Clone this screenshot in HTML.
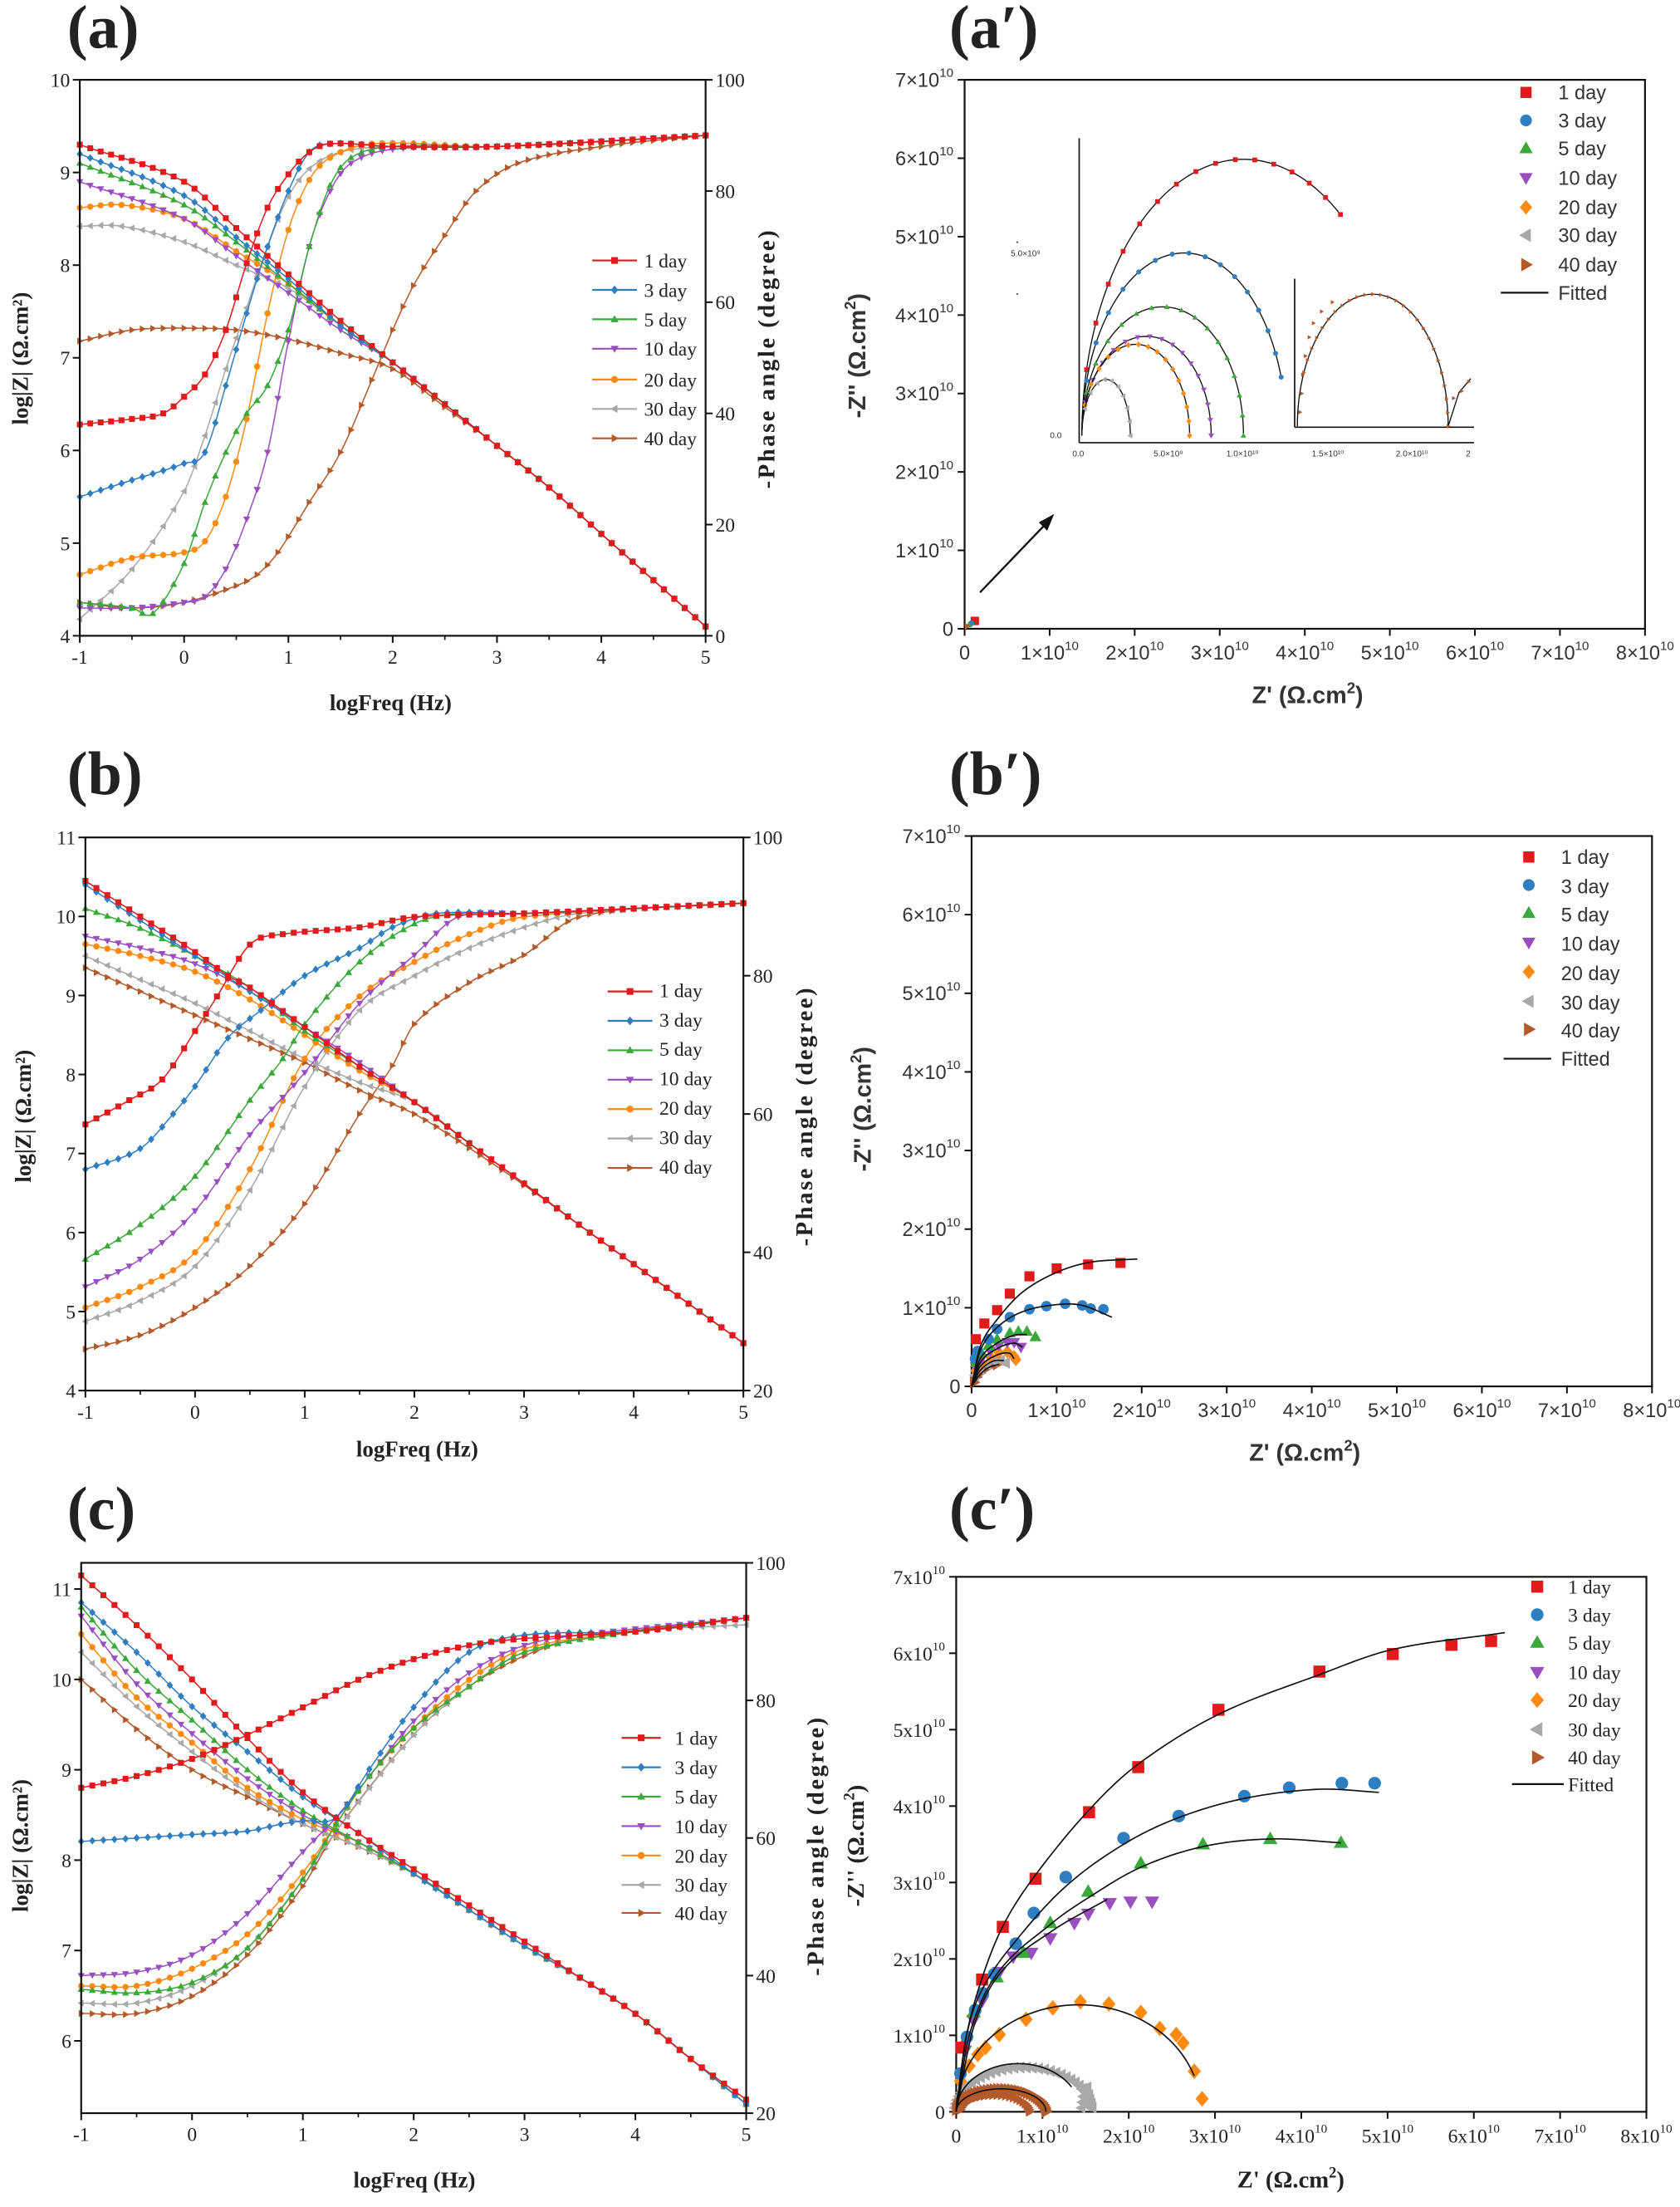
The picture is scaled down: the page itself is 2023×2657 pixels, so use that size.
<!DOCTYPE html>
<html><head><meta charset="utf-8"><style>
html,body{margin:0;padding:0;background:#fff;}
svg{display:block;}
.t{font-family:"Liberation Serif",serif;fill:#222;}
.s{font-family:"Liberation Sans",sans-serif;fill:#333;}
</style></head><body>
<svg id="s" xmlns="http://www.w3.org/2000/svg" width="2023" height="2657" viewBox="0 0 1200 1576" preserveAspectRatio="none">
<rect width="1200" height="1576" fill="#fff"/>
<!-- titles -->
<text class="t" x="48" y="34" font-size="44" font-weight="bold">(a)</text>
<text class="t" x="678" y="34" font-size="44" font-weight="bold">(a′)</text>
<text class="t" x="48" y="567" font-size="44" font-weight="bold">(b)</text>
<text class="t" x="678" y="567" font-size="44" font-weight="bold">(b′)</text>
<text class="t" x="48" y="1092" font-size="44" font-weight="bold">(c)</text>
<text class="t" x="678" y="1092" font-size="44" font-weight="bold">(c′)</text>

<!-- Bode axis labels -->
<text class="t" x="279" y="507" font-size="16" font-weight="bold" text-anchor="middle">logFreq (Hz)</text>
<text class="t" transform="translate(20,256) rotate(-90)" font-size="16" font-weight="bold" text-anchor="middle">log|Z| (Ω.cm²)</text>
<text class="t" transform="translate(553,256) rotate(-90)" font-size="17" font-weight="bold" text-anchor="middle" letter-spacing="1.5">-Phase angle (degree)</text>

<text class="t" x="298" y="1040" font-size="16" font-weight="bold" text-anchor="middle">logFreq (Hz)</text>
<text class="t" transform="translate(22,797) rotate(-90)" font-size="16" font-weight="bold" text-anchor="middle">log|Z| (Ω.cm²)</text>
<text class="t" transform="translate(580,797) rotate(-90)" font-size="17" font-weight="bold" text-anchor="middle" letter-spacing="1.5">-Phase angle (degree)</text>

<text class="t" x="296" y="1562" font-size="16" font-weight="bold" text-anchor="middle">logFreq (Hz)</text>
<text class="t" transform="translate(20,1318) rotate(-90)" font-size="16" font-weight="bold" text-anchor="middle">log|Z| (Ω.cm²)</text>
<text class="t" transform="translate(588,1318) rotate(-90)" font-size="17" font-weight="bold" text-anchor="middle" letter-spacing="1.5">-Phase angle (degree)</text>

<!-- Nyquist axis labels -->
<text class="s" x="934" y="502" font-size="17" font-weight="bold" text-anchor="middle" fill="#333">Z' (Ω.cm<tspan font-size="11" dy="-7">2</tspan><tspan dy="7">)</tspan></text>
<text class="s" transform="translate(618,254) rotate(-90)" font-size="17" font-weight="bold" text-anchor="middle">-Z'' (Ω.cm<tspan font-size="11" dy="-7">2</tspan><tspan dy="7">)</tspan></text>
<text class="s" x="932" y="1043" font-size="17" font-weight="bold" text-anchor="middle">Z' (Ω.cm<tspan font-size="11" dy="-7">2</tspan><tspan dy="7">)</tspan></text>
<text class="s" transform="translate(622,792) rotate(-90)" font-size="17" font-weight="bold" text-anchor="middle">-Z'' (Ω.cm<tspan font-size="11" dy="-7">2</tspan><tspan dy="7">)</tspan></text>
<text class="t" x="922" y="1562" font-size="17" font-weight="bold" text-anchor="middle">Z' (Ω.cm<tspan font-size="11" dy="-7">2</tspan><tspan dy="7">)</tspan></text>
<text class="t" transform="translate(617,1318) rotate(-90)" font-size="17" font-weight="bold" text-anchor="middle">-Z'' (Ω.cm<tspan font-size="11" dy="-7">2</tspan><tspan dy="7">)</tspan></text>

<!-- legends text -->
<g class="t" font-size="14">
<text x="460" y="191">1 day</text><text x="460" y="212">3 day</text><text x="460" y="233">5 day</text><text x="460" y="254">10 day</text><text x="460" y="276">20 day</text><text x="460" y="297">30 day</text><text x="460" y="318">40 day</text>
<text x="471" y="712">1 day</text><text x="471" y="733">3 day</text><text x="471" y="754">5 day</text><text x="471" y="775">10 day</text><text x="471" y="796">20 day</text><text x="471" y="817">30 day</text><text x="471" y="838">40 day</text>
<text x="482" y="1246">1 day</text><text x="482" y="1267">3 day</text><text x="482" y="1288">5 day</text><text x="482" y="1309">10 day</text><text x="482" y="1330">20 day</text><text x="482" y="1351">30 day</text><text x="482" y="1371">40 day</text>
</g>
<g class="s" font-size="14">
<text x="1113" y="71">1 day</text><text x="1113" y="91">3 day</text><text x="1113" y="111">5 day</text><text x="1113" y="132">10 day</text><text x="1113" y="153">20 day</text><text x="1113" y="173">30 day</text><text x="1113" y="194">40 day</text><text x="1113" y="214">Fitted</text>
<text x="1115" y="617">1 day</text><text x="1115" y="638">3 day</text><text x="1115" y="658">5 day</text><text x="1115" y="679">10 day</text><text x="1115" y="700">20 day</text><text x="1115" y="721">30 day</text><text x="1115" y="741">40 day</text><text x="1115" y="761">Fitted</text>
</g>
<g class="t" font-size="14">
<text x="1120" y="1138">1 day</text><text x="1120" y="1158">3 day</text><text x="1120" y="1178">5 day</text><text x="1120" y="1199">10 day</text><text x="1120" y="1219">20 day</text><text x="1120" y="1240">30 day</text><text x="1120" y="1260">40 day</text><text x="1120" y="1279">Fitted</text>
</g>
<!-- inset tiny labels -->
<g class="s" font-size="6" fill="#555">
<text x="722" y="183">5.0×10⁹</text>
<text x="750" y="313">0.0</text>
<text x="766" y="326">0.0</text>
<text x="824" y="326">5.0×10⁹</text>
<text x="876" y="326">1.0×10¹⁰</text>
<text x="937" y="326">1.5×10¹⁰</text>
<text x="997" y="326">2.0×10¹⁰</text>
<text x="1047" y="326">2</text>
</g>
<g id="ticks"></g>
</svg>
<script>
const NS='http://www.w3.org/2000/svg';
const svg=document.getElementById('s');
function el(tag,a,p){const e=document.createElementNS(NS,tag);for(const k in a)e.setAttribute(k,a[k]);(p||svg).appendChild(e);return e;}
function txt(s,a,cls){const e=el('text',a);e.setAttribute('class',cls||'t');e.textContent=s;return e;}
function interp(p,x){
 const n=p.length; if(x<=p[0][0])return p[0][1]; if(x>=p[n-1][0])return p[n-1][1];
 let i=1; while(p[i][0]<x)i++;
 const x0=p[i-1][0],x1=p[i][0],y0=p[i-1][1],y1=p[i][1],h=x1-x0,t=(x-x0)/h;
 const sl=j=>{ if(j==0)return (p[1][1]-p[0][1])/(p[1][0]-p[0][0]); if(j==n-1)return (p[n-1][1]-p[n-2][1])/(p[n-1][0]-p[n-2][0]); return (p[j+1][1]-p[j-1][1])/(p[j+1][0]-p[j-1][0]);};
 const m0=sl(i-1)*h,m1=sl(i)*h,t2=t*t,t3=t2*t;
 return (2*t3-3*t2+1)*y0+(t3-2*t2+t)*m0+(-2*t3+3*t2)*y1+(t3-t2)*m1;
}
function poly(pts,c,g){el('polygon',{points:pts.map(p=>p.join(',')).join(' '),fill:c},g);}
function mk(sh,x,y,s,c,g){
 switch(sh){
 case 'sq':el('rect',{x:x-s,y:y-s,width:2*s,height:2*s,fill:c},g);break;
 case 'ci':el('circle',{cx:x,cy:y,r:s*1.05,fill:c},g);break;
 case 'dm':poly([[x,y-s*1.3],[x+s*1.1,y],[x,y+s*1.3],[x-s*1.1,y]],c,g);break;
 case 'tu':poly([[x,y-s*1.25],[x+s*1.2,y+s*.85],[x-s*1.2,y+s*.85]],c,g);break;
 case 'td':poly([[x,y+s*1.25],[x+s*1.2,y-s*.85],[x-s*1.2,y-s*.85]],c,g);break;
 case 'tl':poly([[x-s*1.25,y],[x+s*.85,y-s*1.2],[x+s*.85,y+s*1.2]],c,g);break;
 case 'tr':poly([[x+s*1.25,y],[x-s*.85,y-s*1.2],[x-s*.85,y+s*1.2]],c,g);break;
 }
}
const COL=['#e31a1c','#2f7ec1','#3aa93a','#9a4fc1','#ff8a12','#a8a8a8','#b35a2a'];
const SH=['sq','dm','tu','td','ci','tl','tr'];
const SH2=['sq','ci','tu','td','dm','tl','tr'];

function bode(P,Z,PH,legY,legX){
 const X=v=>P.x0+(v-P.xmin)/(P.xmax-P.xmin)*(P.x1-P.x0);
 const YL=v=>P.y1-(v-P.lmin)/(P.lmax-P.lmin)*(P.y1-P.y0);
 const YR=v=>P.y1-(v-P.rmin)/(P.rmax-P.rmin)*(P.y1-P.y0);
 const g=el('g',{});
 for(let k=6;k>=0;k--){
  [[Z[k],YL],[PH[k],YR]].forEach(([d,Y])=>{
   let pts=[];for(let f=-1;f<=5.0001;f+=0.02)pts.push([X(f).toFixed(2),Y(interp(d,f)).toFixed(2)]);
   el('polyline',{points:pts.map(p=>p.join(',')).join(' '),fill:'none',stroke:COL[k],'stroke-width':0.9},g);
   for(let f=-1;f<=5.0001;f+=0.1)mk(SH[k],X(f),Y(interp(d,f)),2.1,COL[k],g);
  });
 }
 el('rect',{x:P.x0,y:P.y0,width:P.x1-P.x0,height:P.y1-P.y0,fill:'none',stroke:'#111','stroke-width':1.3});
 for(let f=P.xmin;f<=P.xmax;f++){el('line',{x1:X(f),x2:X(f),y1:P.y1,y2:P.y1+5,stroke:'#111','stroke-width':1.2});
   txt(String(f),{x:X(f),y:P.y1+20,'font-size':14,'text-anchor':'middle'});
   if(f<P.xmax)el('line',{x1:X(f+.5),x2:X(f+.5),y1:P.y1,y2:P.y1+3,stroke:'#111','stroke-width':1});}
 for(let v=Math.ceil(P.lmin);v<=P.lmax;v++){el('line',{x1:P.x0-5,x2:P.x0,y1:YL(v),y2:YL(v),stroke:'#111','stroke-width':1.2});
   txt(String(v),{x:P.x0-7,y:YL(v)+5,'font-size':14,'text-anchor':'end'});}
 for(let v=P.rmin;v<=P.rmax;v+=20){el('line',{x1:P.x1,x2:P.x1+5,y1:YR(v),y2:YR(v),stroke:'#111','stroke-width':1.2});
   txt(String(v),{x:P.x1+7,y:YR(v)+5,'font-size':14});}
 legY.forEach((y,k)=>{el('line',{x1:legX[0],x2:legX[1],y1:y,y2:y,stroke:COL[k],'stroke-width':1.3});mk(SH[k],(legX[0]+legX[1])/2,y,2.4,COL[k]);});
}
const tailA=[[2,6.95],[2.5,6.5],[3,6.05],[3.5,5.6],[4,5.1],[4.5,4.6],[5,4.1]];
bode({x0:57,x1:504,y0:57,y1:454,xmin:-1,xmax:5,lmin:4,lmax:10,rmin:0,rmax:100},
[
 [[-1,9.3],[0,8.9],[0.5,8.4],[1,7.9],[1.5,7.4],...tailA],
 [[-1,9.2],[0,8.75],[0.5,8.3],[1,7.85],[1.5,7.35],...tailA],
 [[-1,9.1],[0,8.65],[0.5,8.25],[1,7.8],[1.5,7.35],...tailA],
 [[-1,8.9],[0,8.5],[0.5,8.1],[1,7.7],[1.5,7.3],...tailA],
 [[-1,8.62],[-0.6,8.65],[0,8.5],[0.5,8.15],[1,7.8],[1.5,7.35],...tailA],
 [[-1,8.42],[-0.6,8.42],[0,8.25],[0.5,8.0],[1,7.75],[1.5,7.35],...tailA],
 [[-1,7.18],[-0.5,7.3],[0,7.32],[0.5,7.3],[1,7.2],[1.5,7.05],[2,6.88],[2.5,6.47],[3,6.05],[3.5,5.6],[4,5.1],[4.5,4.6],[5,4.1]]
],[
 [[-1,38],[-0.5,39],[-0.2,40],[0,43],[0.2,47],[0.4,55],[0.6,67],[0.8,77],[1,83],[1.2,87],[1.4,88.5],[2,88],[3,88],[5,90]],
 [[-1,25],[-0.5,28],[0,31],[0.2,33],[0.4,45],[0.6,58],[0.8,70],[1,80],[1.2,87],[1.4,88.5],[2,88],[3,88],[5,90]],
 [[-1,6],[-0.5,5],[-0.3,4],[0,13],[0.2,24],[0.4,33],[0.6,40],[0.8,45],[1,55],[1.2,70],[1.4,81],[1.6,86],[2,88],[3,88],[5,90]],
 [[-1,5],[-0.5,5],[0,6],[0.2,7],[0.4,12],[0.6,21],[0.8,33],[1,53],[1.2,70],[1.4,80],[1.6,85],[2,87.5],[3,88],[5,90]],
 [[-1,11],[-0.5,14],[0,15],[0.2,17],[0.4,25],[0.6,39],[0.8,58],[1,73],[1.2,82],[1.4,86],[1.8,88.5],[3,88],[5,90]],
 [[-1,3],[-0.5,12],[0,26],[0.2,36],[0.4,48],[0.6,59],[0.8,70],[1,79],[1.2,84],[1.5,87],[2,88],[3,88],[5,90]],
 [[-1,6],[-0.5,5],[0,6],[0.5,9],[0.7,11],[0.9,15],[1.2,24],[1.5,33],[1.8,46],[2,55],[2.2,63],[2.5,72],[2.8,80],[3.2,85],[4,88],[5,90]]
],[186,207,228,249,271,292,313],[423,455]);

const tailB=[[2,7.65],[2.5,7.13],[3,6.62],[3.5,6.1],[4,5.6],[4.5,5.1],[5,4.6]];
bode({x0:61,x1:531,y0:598,y1:993,xmin:-1,xmax:5,lmin:4,lmax:11,rmin:20,rmax:100},
[
 [[-1,10.45],[-0.5,10.0],[0,9.55],[0.3,9.25],[0.5,9.1],[1,8.6],[1.5,8.1],...tailB],
 [[-1,10.4],[-0.5,9.95],[0,9.5],[0.5,9.05],[1,8.6],[1.5,8.1],...tailB],
 [[-1,10.1],[-0.5,9.85],[0,9.5],[0.5,9.1],[1,8.55],[1.5,8.1],...tailB],
 [[-1,9.75],[-0.5,9.6],[0,9.4],[0.5,9.05],[1,8.6],[1.5,8.15],...tailB],
 [[-1,9.65],[-0.5,9.5],[0,9.3],[0.5,8.95],[1,8.5],[1.5,8.05],...tailB],
 [[-1,9.5],[-0.5,9.2],[0,8.9],[0.5,8.55],[1,8.2],[1.5,7.9],...tailB],
 [[-1,9.35],[-0.5,9.05],[0,8.75],[0.5,8.45],[1,8.15],[1.5,7.8],[2,7.5],[2.5,7.07],[3,6.6],[3.5,6.1],[4,5.6],[4.5,5.1],[5,4.6]]
],[
 [[-1,58.5],[-0.6,62],[-0.3,65],[0,72],[0.2,77],[0.5,84.5],[0.8,86],[1.5,87],[2,88.5],[3,89],[5,90.5]],
 [[-1,52],[-0.5,55],[-0.2,60],[0,64],[0.3,71],[0.6,75],[1,80],[1.5,84],[1.8,87],[2.2,89],[3,89],[5,90.5]],
 [[-1,39],[-0.5,44],[0,51],[0.5,62],[0.8,68],[1,73],[1.5,82],[2,87.5],[2.4,89],[3,89],[5,90.5]],
 [[-1,35],[-0.5,39],[0,46],[0.5,57],[1,66],[1.5,76],[2,83],[2.4,88.5],[3,89],[5,90.5]],
 [[-1,32],[-0.5,35],[0,40],[0.5,52],[1,68],[1.5,77],[2,82],[2.5,86],[3,88.5],[5,90.5]],
 [[-1,30],[-0.5,33],[0,38],[0.5,49],[1,64],[1.5,75],[2,80],[2.5,84],[3,87],[3.5,89],[5,90.5]],
 [[-1,26],[-0.5,28],[0,32],[0.5,38],[1,47],[1.5,60],[1.8,67],[2,73],[2.5,79],[3,83],[3.5,88.5],[5,90.5]]
],[708,729,750,771,792,813,834],[434,466]);

const tailC=[[2,7.85],[2.5,7.45],[3,7.05],[3.5,6.7],[4,6.3],[4.5,5.8],[5,5.3]];
bode({x0:58,x1:533,y0:1116,y1:1509,xmin:-1,xmax:5,lmin:5.2,lmax:11.29,rmin:20,rmax:100},
[
 [[-1,11.15],[-0.5,10.6],[0,10.0],[0.5,9.35],[1,8.75],[1.5,8.3],[2,7.9],[2.5,7.5],[3,7.1],[3.5,6.7],[4,6.3],[4.5,5.8],[5,5.35]],
 [[-1,10.85],[-0.5,10.3],[0,9.7],[0.5,9.2],[1,8.7],[1.5,8.3],...tailC],
 [[-1,10.8],[-0.5,10.1],[0,9.55],[0.5,9.0],[1,8.55],[1.5,8.2],...tailC],
 [[-1,10.7],[-0.5,9.95],[0,9.4],[0.5,8.9],[1,8.5],[1.5,8.2],...tailC],
 [[-1,10.5],[-0.5,9.8],[0,9.3],[0.5,8.8],[1,8.45],[1.5,8.2],...tailC],
 [[-1,10.3],[-0.5,9.7],[0,9.2],[0.5,8.75],[1,8.4],[1.5,8.15],...tailC],
 [[-1,10.0],[-0.5,9.45],[0,9.0],[0.5,8.7],[1,8.4],[1.5,8.15],...tailC]
],[
 [[-1,67.3],[-0.5,69],[0,71.5],[0.5,75],[1,79],[1.5,83],[2,86],[2.5,88],[3,89],[4,90],[5,92]],
 [[-1,59.5],[-0.5,60],[0,60.5],[0.5,61],[0.8,62],[1,62.5],[1.3,63],[1.6,70],[2,79],[2.5,87],[3,89.5],[4,90],[5,92]],
 [[-1,38],[-0.5,37.5],[0,39],[0.5,44],[1,54],[1.3,62],[1.6,69],[2,76],[2.5,82],[3,87],[4,90],[5,92]],
 [[-1,40],[-0.5,40.5],[0,43],[0.5,49],[1,58],[1.3,63],[1.6,69],[2,77],[2.5,84],[3,88],[3.5,89.5],[5,92]],
 [[-1,38.5],[-0.5,38.5],[0,41],[0.5,46],[1,55],[1.3,62],[1.6,69],[2,76],[2.5,83],[3,87.5],[4,90],[5,92]],
 [[-1,36],[-0.5,36],[0,38.5],[0.5,44],[1,54],[1.3,61],[2,75],[2.5,82],[3,87],[4,90],[5,91]],
 [[-1,34.5],[-0.5,34.5],[0,37],[0.5,43],[1,53],[1.3,61],[2,75],[2.5,82],[3,86.5],[3.5,89],[5,92]]
],[1241,1262,1283,1304,1325,1346,1366],[444,472]);

function nyqFrame(P,cls,sep){
 const X=v=>P.x0+v/8*(P.x1-P.x0), Y=v=>P.y1-v/7*(P.y1-P.y0);
 el('rect',{x:P.x0,y:P.y0,width:P.x1-P.x0,height:P.y1-P.y0,fill:'none',stroke:'#111','stroke-width':1.3});
 for(let i=0;i<=8;i++){el('line',{x1:X(i),x2:X(i),y1:P.y1,y2:P.y1+5,stroke:'#111','stroke-width':1.2});
  const t=txt('',{x:X(i),y:P.y1+22,'font-size':14,'text-anchor':'middle',fill:'#333'},cls);
  if(i==0)t.textContent='0';else{t.textContent=i+sep+'10';const s=el('tspan',{'font-size':9,dy:-7},t);s.textContent='10';}}
 for(let i=0;i<=7;i++){el('line',{x1:P.x0-5,x2:P.x0,y1:Y(i),y2:Y(i),stroke:'#111','stroke-width':1.2});
  const t=txt('',{x:P.x0-8,y:Y(i)+5,'font-size':14,'text-anchor':'end',fill:'#333'},cls);
  if(i==0){t.textContent='0';}else{t.textContent=i+sep+'10';const s=el('tspan',{'font-size':9,dy:-7},t);s.textContent='10';}}
 return [X,Y];
}
function fitLine(pts,X,Y){let p=[];const a=pts[0][0],b=pts[pts.length-1][0];
 for(let i=0;i<=120;i++){const x=a+(b-a)*i/120;p.push([X(x).toFixed(2),Y(interp(pts,x)).toFixed(2)]);}
 el('polyline',{points:p.map(q=>q.join(',')).join(' '),fill:'none',stroke:'#111','stroke-width':1});}
function ellPts(cx,a,b,t1,n){let p=[];for(let i=0;i<=n;i++){const t=t1*i/n;p.push([cx-a*Math.cos(t),b*Math.sin(t)]);}return p;}
function ellLine(cx,a,b,t1,X,Y){const p=ellPts(cx,a,b,t1,80);el('polyline',{points:p.map(q=>X(q[0]).toFixed(2)+','+Y(q[1]).toFixed(2)).join(' '),fill:'none',stroke:'#111','stroke-width':1});}
function legN(xm,xl,ys,sz){ys.forEach((y,k)=>{if(k<7)mk(SH2[k],xm,y,sz,COL[k]);});el('line',{x1:xl[0],x2:xl[1],y1:ys[7],y2:ys[7],stroke:'#111','stroke-width':1.3});}

(function(){
 const P={x0:689,x1:1175,y0:57,y1:449};
 const [X,Y]=nyqFrame(P,'s','×');
 mk('sq',X(0.12),Y(0.1),3,COL[0]);mk('ci',X(0.08),Y(0.07),2,COL[1]);mk('tu',X(0.05),Y(0.05),2,COL[2]);mk('tr',X(0.03),Y(0.03),2,COL[6]);
 el('line',{x1:700,y1:423,x2:749,y2:372,stroke:'#111','stroke-width':1.4});
 poly([[753,367],[742,373],[748,379]],'#111');
 const ZX=v=>599.6+v*0.3848, ZY=v=>v*0.3345;
 el('line',{x1:ZX(445),y1:ZY(295),x2:ZX(445),y2:ZY(945),stroke:'#111','stroke-width':1});
 el('line',{x1:ZX(445),y1:ZY(945),x2:ZX(1178),y2:ZY(945),stroke:'#111','stroke-width':1});
 el('line',{x1:ZX(845),y1:ZY(595),x2:ZX(845),y2:ZY(912),stroke:'#111','stroke-width':1});
 el('line',{x1:ZX(845),y1:ZY(912),x2:ZX(1178),y2:ZY(912),stroke:'#111','stroke-width':1});
 el('circle',{cx:726.6,cy:173,r:0.6,fill:'#333'});el('circle',{cx:726.6,cy:210,r:0.6,fill:'#333'});
 const sets=[[300,590,930],[190,390,820],[150,275,760],[120,212,718],[100,195,665],[45,120,545]];
 sets.forEach((s,k)=>{
  const [a,b,xe]=s; const c=1-(xe-450)/a; const te=Math.acos(Math.max(-1,Math.min(1,c)));
  let p=[];for(let i=0;i<=60;i++){const t=te*i/60;p.push([ZX(450+a*(1-Math.cos(t))),ZY(930-b*Math.sin(t))]);}
  el('polyline',{points:p.map(q=>q.join(',')).join(' '),fill:'none',stroke:'#111','stroke-width':0.8});
  const n=k==5?10:16;
  for(let i=1;i<=n;i++){const t=te*Math.pow(i/n,0.8);mk(SH2[k],ZX(450+a*(1-Math.cos(t))),ZY(930-b*Math.sin(t)),1.7,COL[k]);}
 });
 let p=[];for(let i=0;i<=60;i++){const t=Math.PI*i/60;p.push([ZX(850+140*(1-Math.cos(t))),ZY(910-282*Math.sin(t))]);}
 p.push([ZX(1150),ZY(838)],[ZX(1172),ZY(808)]);
 el('polyline',{points:p.map(q=>q.join(',')).join(' '),fill:'none',stroke:'#111','stroke-width':0.8});
 for(let i=4;i<=30;i++){const t=Math.PI*i/30;mk('tr',ZX(850+140*(1-Math.cos(t))),ZY(910-282*Math.sin(t)),1.3,COL[6]);}
 [[855,880],[858,840],[860,800],[865,760],[872,720],[880,690],[895,665],[915,645]].forEach(q=>mk('tr',ZX(q[0]),ZY(q[1]),1.3,COL[6]));
 [[1140,850],[1155,835],[1168,815]].forEach(q=>mk('tr',ZX(q[0]),ZY(q[1]),1.3,COL[6]));
 legN(1090,[1072,1106],[66,86,106,127,148,168,189,209],4);
})();

(function(){
 const P={x0:694,x1:1180,y0:597,y1:990};
 const [X,Y]=nyqFrame(P,'s','×');
 const fits=[
  [[0,0],[0.1,0.5],[0.3,0.85],[0.6,1.2],[1.0,1.45],[1.4,1.58],[1.95,1.62]],
  [[0,0],[0.1,0.45],[0.3,0.75],[0.6,0.95],[1.0,1.04],[1.3,1.03],[1.65,0.88]],
  [[0,0],[0.1,0.35],[0.3,0.55],[0.5,0.65],[0.65,0.66]],
  [[0,0],[0.1,0.3],[0.3,0.48],[0.5,0.55],[0.6,0.5]],
  [[0,0],[0.1,0.25],[0.3,0.4],[0.45,0.42],[0.5,0.35]],
  [[0,0],[0.1,0.2],[0.25,0.32],[0.38,0.33]],
  [[0,0],[0.1,0.15],[0.2,0.24],[0.32,0.28]]];
 const pts=[
  [[0.05,0.6],[0.15,0.8],[0.3,0.97],[0.45,1.18],[0.68,1.4],[1.0,1.5],[1.37,1.55],[1.75,1.57]],
  [[0.04,0.35],[0.07,0.45],[0.2,0.6],[0.3,0.73],[0.45,0.88],[0.68,0.98],[0.88,1.02],[1.1,1.05],[1.3,1.03],[1.4,0.99],[1.55,0.98]],
  [[0.05,0.3],[0.12,0.42],[0.2,0.52],[0.3,0.6],[0.45,0.68],[0.55,0.7],[0.65,0.7],[0.75,0.63]],
  [[0.05,0.25],[0.12,0.36],[0.22,0.45],[0.32,0.52],[0.42,0.56],[0.5,0.56],[0.58,0.5]],
  [[0.05,0.2],[0.12,0.3],[0.22,0.38],[0.32,0.43],[0.42,0.44],[0.5,0.38],[0.52,0.34]],
  [[0.04,0.14],[0.1,0.22],[0.18,0.28],[0.26,0.32],[0.34,0.33],[0.4,0.3]],
  [[0.03,0.05],[0.06,0.12],[0.1,0.17],[0.16,0.22],[0.22,0.26],[0.3,0.28]]];
 for(let k=6;k>=0;k--){pts[k].forEach(q=>mk(SH2[k],X(q[0]),Y(q[1]),3.6,COL[k]));}
 for(let k=0;k<7;k++)fitLine(fits[k],X,Y);
 legN(1092,[1074,1108],[612,632,652,673,694,715,735,756],4);
})();

(function(){
 const P={x0:683,x1:1176,y0:1126,y1:1508};
 const [X,Y]=nyqFrame(P,'t','x');
 const fits=[
  [[0,0],[0.1,0.9],[0.3,1.75],[0.55,2.45],[0.92,3.1],[1.54,3.95],[2.11,4.55],[3.04,5.2],[4.21,5.72],[5.06,6.05],[6.36,6.27]],
  [[0,0],[0.12,1.0],[0.3,1.6],[0.7,2.25],[1.27,2.95],[1.94,3.5],[2.58,3.85],[3.34,4.1],[4.2,4.22],[4.9,4.18]],
  [[0,0],[0.15,1.0],[0.47,1.8],[1.09,2.45],[1.53,2.8],[2.14,3.2],[2.86,3.47],[3.64,3.57],[4.46,3.52]],
  [[0,0],[0.2,1.1],[0.5,1.8],[1.09,2.35],[1.75,2.78]]];
 const pts=[
  [[0.06,0.84],[0.3,1.73],[0.54,2.42],[0.92,3.05],[1.54,3.92],[2.11,4.51],[3.04,5.26],[4.21,5.76],[5.06,5.99],[5.74,6.11],[6.2,6.16]],
  [[0.05,0.5],[0.125,0.98],[0.22,1.33],[0.31,1.55],[0.44,1.8],[0.69,2.2],[0.9,2.6],[1.27,3.07],[1.94,3.58],[2.58,3.87],[3.34,4.13],[3.86,4.24],[4.47,4.3],[4.85,4.3]],
  [[0.09,0.9],[0.2,1.3],[0.47,1.76],[0.78,2.08],[1.09,2.47],[1.53,2.88],[2.14,3.25],[2.86,3.5],[3.64,3.57],[4.46,3.52]],
  [[0.1,0.8],[0.2,1.2],[0.3,1.45],[0.5,1.83],[0.66,2.03],[0.87,2.08],[1.09,2.27],[1.37,2.47],[1.53,2.59],[1.78,2.73],[2.02,2.75],[2.27,2.75]],
  [[0.05,0.4],[0.15,0.6],[0.25,0.75],[0.34,0.84],[0.5,1.01],[0.81,1.21],[1.12,1.36],[1.44,1.44],[1.77,1.41],[2.14,1.3],[2.36,1.09],[2.55,1.01],[2.63,0.9],[2.76,0.53],[2.85,0.17]]];
 for(let k=4;k>=0;k--)pts[k].forEach(q=>mk(SH2[k],X(q[0]),Y(q[1]),4.3,COL[k]));
 ellPts(0.78,0.8,0.58,Math.PI*0.97,34).forEach((q,i)=>{if(i>0)mk('tl',X(q[0]),Y(q[1]),3.6,COL[5]);});
 for(let i=0;i<12;i++)mk('tl',X(1.45+0.1*((i*7)%10)/10),Y(0.05+0.3*i/12),3.4,COL[5]);
 ellPts(0.52,0.52,0.3,Math.PI,40).forEach((q,i)=>{if(i>0)mk('tr',X(q[0]),Y(q[1]),3.6,COL[6]);});
 ellPts(0.45,0.4,0.22,Math.PI,25).forEach((q,i)=>{if(i>0)mk('tr',X(q[0]),Y(q[1]),3,COL[6]);});
 for(let k=0;k<4;k++)fitLine(fits[k],X,Y);
 ellLine(1.42,1.42,1.4,2.8,X,Y);
 ellLine(0.72,0.72,0.63,2.6,X,Y);
 ellLine(0.52,0.52,0.3,Math.PI,X,Y);
 legN(1098,[1080,1117],[1133,1153,1173,1194,1214,1235,1255,1274],4.3);
})();
</script>
</body></html>
